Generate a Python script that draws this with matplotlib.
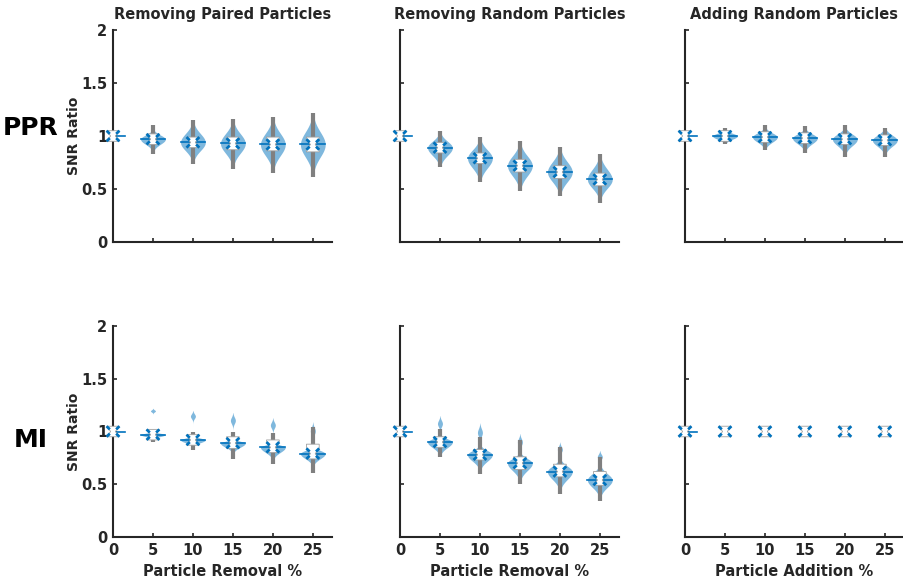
import numpy as np
import matplotlib.pyplot as plt

# group positions (percent of particles removed / added)
groups = [0, 5, 10, 15, 20, 25]
titles = ['Removing Paired Particles', 'Removing Random Particles', 'Adding Random Particles']
xlabels = ['Particle Removal %', 'Particle Removal %', 'Particle Addition %']
row_names = ['PPR', 'MI']

# panels: PPR paired, PPR random, PPR add, MI paired, MI random, MI add
medians = [
    [1.0, 0.97, 0.94, 0.93, 0.92, 0.92],
    [1.0, 0.89, 0.79, 0.72, 0.66, 0.59],
    [1.0, 1.00, 0.99, 0.98, 0.97, 0.96],
    [1.0, 0.97, 0.92, 0.89, 0.85, 0.79],
    [1.0, 0.90, 0.78, 0.70, 0.62, 0.54],
    [1.0, 1.00, 1.00, 1.00, 1.00, 1.00],
]
q1s = [
    [1.0, 0.94, 0.89, 0.87, 0.86, 0.85],
    [1.0, 0.85, 0.74, 0.66, 0.60, 0.53],
    [1.0, 0.97, 0.95, 0.94, 0.93, 0.92],
    [1.0, 0.95, 0.89, 0.85, 0.80, 0.75],
    [1.0, 0.86, 0.73, 0.64, 0.57, 0.49],
    [1.0, 1.00, 1.00, 1.00, 1.00, 1.00],
]
q3s = [
    [1.0, 1.00, 0.99, 0.99, 0.99, 0.99],
    [1.0, 0.93, 0.84, 0.78, 0.72, 0.65],
    [1.0, 1.03, 1.03, 1.02, 1.01, 1.00],
    [1.0, 0.99, 0.97, 0.95, 0.92, 0.88],
    [1.0, 0.95, 0.83, 0.76, 0.69, 0.62],
    [1.0, 1.00, 1.00, 1.00, 1.00, 1.00],
]
whisk_lo = [
    [1.0, 0.83, 0.74, 0.69, 0.65, 0.61],
    [1.0, 0.71, 0.57, 0.48, 0.43, 0.37],
    [1.0, 0.92, 0.87, 0.84, 0.80, 0.80],
    [1.0, 0.90, 0.82, 0.74, 0.69, 0.61],
    [1.0, 0.76, 0.60, 0.50, 0.41, 0.34],
    [1.0, 1.00, 1.00, 1.00, 1.00, 1.00],
]
whisk_hi = [
    [1.0, 1.10, 1.15, 1.16, 1.18, 1.22],
    [1.0, 1.05, 0.99, 0.95, 0.90, 0.83],
    [1.0, 1.08, 1.10, 1.09, 1.10, 1.08],
    [1.0, 1.00, 1.00, 1.00, 0.99, 1.04],
    [1.0, 1.02, 0.95, 0.92, 0.85, 0.76],
    [1.0, 1.00, 1.00, 1.00, 1.00, 1.00],
]
# main lobe of each violin
body_lo = [
    [1.0, 0.86, 0.76, 0.72, 0.68, 0.65],
    [1.0, 0.72, 0.58, 0.50, 0.45, 0.40],
    [1.0, 0.93, 0.88, 0.86, 0.83, 0.83],
    [1.0, 0.93, 0.86, 0.80, 0.74, 0.68],
    [1.0, 0.78, 0.64, 0.54, 0.45, 0.38],
    [1.0, 1.00, 1.00, 1.00, 1.00, 1.00],
]
body_hi = [
    [1.0, 1.06, 1.13, 1.14, 1.16, 1.19],
    [1.0, 1.03, 0.97, 0.93, 0.88, 0.81],
    [1.0, 1.06, 1.08, 1.07, 1.08, 1.07],
    [1.0, 1.00, 0.96, 0.93, 0.90, 0.86],
    [1.0, 0.97, 0.87, 0.80, 0.74, 0.68],
    [1.0, 1.00, 1.00, 1.00, 1.00, 1.00],
]
# thin upper tails (MI row only)
nan = np.nan
tail_lo = [
    [nan] * 6,
    [nan] * 6,
    [nan] * 6,
    [nan, 1.17, 1.09, 1.03, 0.99, 0.92],
    [nan, 1.00, 0.90, 0.82, 0.76, 0.70],
    [nan] * 6,
]
tail_hi = [
    [nan] * 6,
    [nan] * 6,
    [nan] * 6,
    [nan, 1.22, 1.20, 1.18, 1.13, 1.09],
    [nan, 1.15, 1.08, 0.98, 0.90, 0.82],
    [nan] * 6,
]

BLUE = '#0072BD'
GRAY = '#808080'
INK = '#262626'
W = 1.55    # max half width of a violin (x units)
BW = 0.8    # notch outer half width
NW = 0.3    # notch inner half width
NH = 0.05   # notch half height


def draw_violin(ax, x, p, i):
    med = medians[p][i]
    blo, bhi = body_lo[p][i], body_hi[p][i]
    tlo, thi = tail_lo[p][i], tail_hi[p][i]
    has_body = bhi > blo
    if has_body:
        lo = blo if np.isnan(tlo) else min(blo, tlo)
        hi = bhi if np.isnan(thi) else max(bhi, thi)
        yy = np.linspace(lo, hi, 300)
        s = np.where(yy < med, (med - blo) / 2.3, (bhi - med) / 2.3)
        prof = np.exp(-0.5 * ((yy - med) / s) ** 2)
        prof[(yy < blo) | (yy > bhi)] = 0
        if not np.isnan(tlo):
            tc = (tlo + thi) / 2
            ts = (thi - tlo) / 5
            prof = prof + 0.2 * np.exp(-0.5 * ((yy - tc) / ts) ** 2)
        prof = W * prof / prof.max()
        ax.fill_betweenx(yy, x - prof, x + prof, color=BLUE, alpha=0.5, lw=0, zorder=1)
    if has_body or i == 0:
        for sx in (-1, 1):
            ax.plot([x + sx * W, x + sx * NW], [med, med], color=BLUE, lw=1.2, zorder=2)
    ax.plot([x, x], [whisk_lo[p][i], whisk_hi[p][i]], color=GRAY, lw=3,
            solid_capstyle='butt', zorder=2)
    top = max(q3s[p][i], med + NH)
    bot = min(q1s[p][i], med - NH)
    box_x = [x - BW, x - BW, x - NW, x - BW, x - BW, x + BW, x + BW, x + NW, x + BW, x + BW]
    box_y = [bot, med - NH, med, med + NH, top, top, med + NH, med, med - NH, bot]
    ax.fill(box_x, box_y, facecolor='white', edgecolor='#a0a0a0', lw=0.6, zorder=3,
            clip_on=False)
    for sx in (-1, 1):
        for sy in (-1, 1):
            ax.plot([x + sx * BW, x + sx * (NW + 0.1)], [med + sy * NH, med + sy * NH * 0.4],
                    color=BLUE, lw=2.0, solid_capstyle='butt', zorder=4, clip_on=False)


fig = plt.figure(figsize=(9.04, 5.86), dpi=100)
lefts = [113, 400, 685]
rows_px = [(30, 242), (326, 537)]

for r in range(2):
    for c in range(3):
        p = r * 3 + c
        t, b = rows_px[r]
        ax = fig.add_axes([lefts[c] / 904, 1 - b / 586, 219 / 904, (b - t) / 586])
        for i, g in enumerate(groups):
            draw_violin(ax, g, p, i)
        ax.set_xlim(0, 27.4)
        ax.set_ylim(0, 2)
        ax.set_xticks(groups)
        ax.set_yticks([0, 0.5, 1, 1.5, 2])
        ax.set_yticklabels(['0', '0.5', '1', '1.5', '2'])
        for side in ('top', 'right'):
            ax.spines[side].set_visible(False)
        for side in ('left', 'bottom'):
            ax.spines[side].set_linewidth(1.5)
            ax.spines[side].set_color(INK)
        ax.tick_params(direction='in', length=3, width=1.2, colors=INK,
                       labelsize=10.5, pad=4)
        for lab in ax.get_xticklabels() + ax.get_yticklabels():
            lab.set_fontweight('bold')
        if r == 0:
            ax.set_title(titles[c], fontsize=10.5, fontweight='bold', color=INK, pad=8)
            ax.tick_params(labelbottom=False)
        else:
            ax.set_xlabel(xlabels[c], fontsize=10.5, fontweight='bold', color=INK, labelpad=5)
        if c == 0:
            ax.set_ylabel('SNR Ratio', fontsize=10, fontweight='bold', color=INK, labelpad=0)
        else:
            ax.tick_params(labelleft=False)

fig.text(31 / 904, 1 - 128 / 586, row_names[0], fontsize=18, fontweight='bold',
         ha='center', va='center')
fig.text(31 / 904, 1 - 440 / 586, row_names[1], fontsize=18, fontweight='bold',
         ha='center', va='center')

fig.savefig('out.png', dpi=100)
